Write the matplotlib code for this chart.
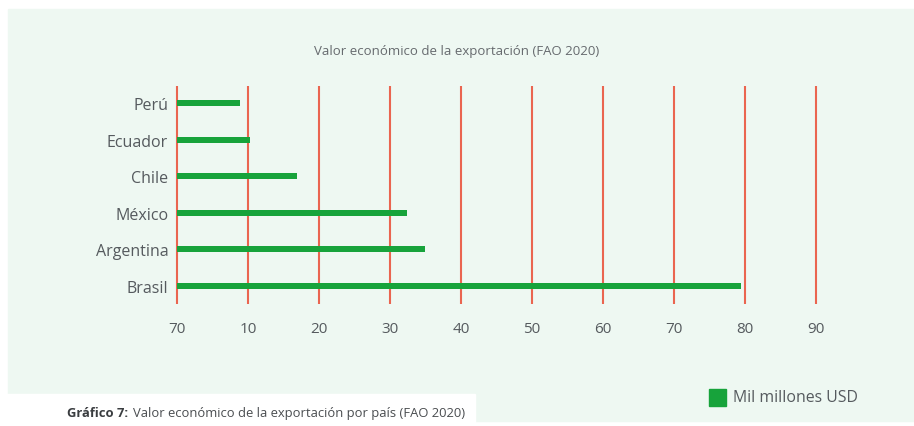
import matplotlib
matplotlib.use('Agg')
import matplotlib.pyplot as plt
from matplotlib.patches import Rectangle

# Export value per country (thousand million USD)
paises = ['Brasil', 'Argentina', 'México', 'Chile', 'Ecuador', 'Perú']
valores = [79.4, 34.9, 32.4, 16.9, 10.3, 8.9]
ticks = [0, 10, 20, 30, 40, 50, 60, 70, 80, 90]
tick_labels = ['70', '10', '20', '30', '40', '50', '60', '70', '80', '90']

VERDE = '#17a33b'
ROJO = '#ea6550'
FONDO = '#eef8f2'
GRIS = '#555a5e'

plt.rcParams['font.family'] = ['Open Sans', 'DejaVu Sans']

fig = plt.figure(figsize=(9.14, 4.27), dpi=100)
fig.patch.set_facecolor('white')

# light panel behind the chart, white caption strip at bottom left
fig.patches.append(Rectangle((8 / 914, 1 - 422 / 427), 1, 412 / 427,
                             transform=fig.transFigure, color=FONDO, zorder=0))
fig.patches.append(Rectangle((0, 0), 475 / 914, 32 / 427,
                             transform=fig.transFigure, color='white', zorder=1))

ax = fig.add_axes([162.8 / 914, 1 - 305 / 427, 667.4 / 914, 218 / 427])
ax.set_zorder(5)
ax.set_facecolor('none')
ax.set_xlim(-2, 92)
ax.set_ylim(-0.5, 5.47)

y = range(len(paises))
ax.vlines(ticks, -0.5, 5.47, color=ROJO, linewidth=1.5, zorder=1)
ax.barh(y, valores, height=0.17, color=VERDE, zorder=2)

ax.set_xticks(ticks)
ax.set_xticklabels(tick_labels, fontsize=11, color=GRIS)
ax.set_yticks(list(y))
ax.set_yticklabels(paises, fontsize=11.5, color=GRIS)
ax.tick_params(axis='x', length=0, pad=12.5)
ax.tick_params(axis='y', length=0, pad=-3.9)
for s in ax.spines.values():
    s.set_visible(False)

fig.text(0.5, 1 - 51 / 427, 'Valor económico de la exportación (FAO 2020)',
         ha='center', va='center', fontsize=9.5, color='#666a6e')

# legend
fig.patches.append(Rectangle((709 / 914, 1 - 407 / 427), 17 / 914, 17 / 427,
                             transform=fig.transFigure, color=VERDE, zorder=2))
fig.text(733 / 914, 1 - 398 / 427, 'Mil millones USD', ha='left', va='center',
         fontsize=11.4, color=GRIS)

fig.text(67 / 914, 1 - 414 / 427, 'Gráfico 7:', ha='left', va='center',
         fontsize=9.4, color='#3a3d40', fontweight='bold', zorder=3)
fig.text(133 / 914, 1 - 414 / 427,
         'Valor económico de la exportación por país (FAO 2020)',
         ha='left', va='center', fontsize=9.4, color='#4a4d50', zorder=3)

fig.savefig('out.png', dpi=100)
